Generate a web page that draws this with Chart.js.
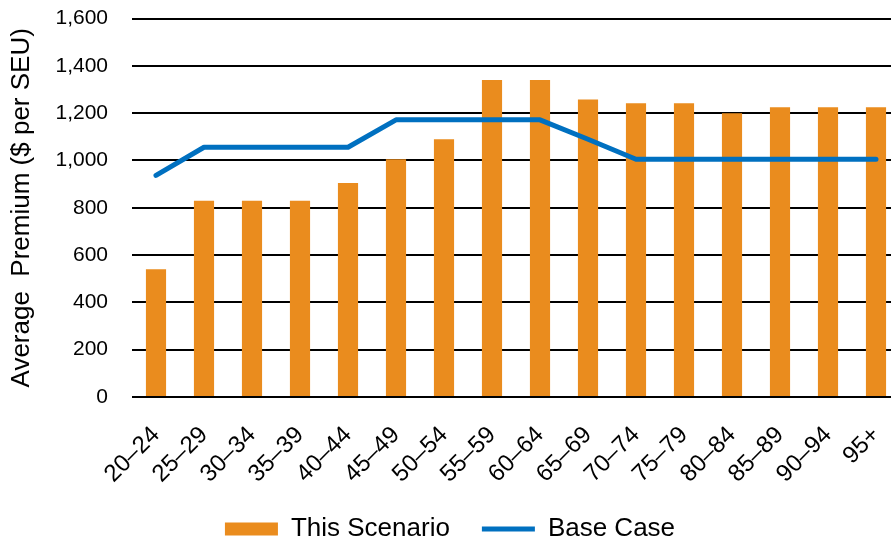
<!DOCTYPE html>
<html>
<head>
<meta charset="utf-8">
<script src="https://cdn.jsdelivr.net/npm/chart.js@4.4.0/dist/chart.umd.min.js"></script>
<style>
  html, body { margin: 0; padding: 0; background: #fff; overflow: hidden; }
  #wrap { width: 900px; height: 570px; position: absolute; left: 0; top: -18px; }
</style>
</head>
<body>
<div id="wrap"><canvas id="chart"></canvas></div>
<script>
const ageGroups = ['20–24', '25–29', '30–34', '35–39', '40–44', '45–49', '50–54', '55–59',
  '60–64', '65–69', '70–74', '75–79', '80–84', '85–89', '90–94', '95+'];
const thisScenario = [540, 830, 830, 830, 905, 1005, 1090, 1340, 1340, 1258, 1242, 1242, 1200, 1225, 1225, 1225];
const baseCase = [937, 1056, 1056, 1056, 1056, 1172, 1172, 1172, 1172, 1090, 1005, 1005, 1005, 1005, 1005, 1005];
const yTicks = [0, 200, 400, 600, 800, 1000, 1200, 1400, 1600];

const family = "'Liberation Sans', Arial, sans-serif";
const tickFont = { family: family, size: 21 };
const xFont = { family: family, size: 24 };
const bigFont = { family: family, size: 26 };

new Chart(document.getElementById('chart'), {
  type: 'bar',
  data: {
    labels: ageGroups,
    datasets: [
      {
        label: 'This Scenario',
        data: thisScenario,
        backgroundColor: '#EA8C1E',
        borderWidth: 0,
        categoryPercentage: 1,
        barPercentage: 0.42,
        pointStyle: 'rect',
        order: 2
      },
      {
        type: 'line',
        label: 'Base Case',
        data: baseCase,
        borderColor: '#0070C0',
        backgroundColor: '#0070C0',
        borderWidth: 5,
        borderCapStyle: 'round',
        borderJoinStyle: 'round',
        tension: 0,
        pointRadius: 0,
        pointStyle: 'line',
        order: 1
      }
    ]
  },
  options: {
    responsive: true,
    maintainAspectRatio: false,
    animation: false,
    layout: { padding: { left: 0, right: 0, top: 0, bottom: 0 } },
    plugins: {
      tooltip: { enabled: false },
      legend: {
        position: 'bottom',
        labels: {
          usePointStyle: true,
          pointStyleWidth: 53,
          boxHeight: 13,
          padding: 32,
          color: '#000',
          font: bigFont,
          sort: (a, b) => a.datasetIndex - b.datasetIndex
        }
      }
    },
    scales: {
      x: {
        grid: { display: false },
        border: { display: false },
        afterFit: axis => {
          // fixed axis box so the legend sits close; let labels spill past it
          axis.height = 87;
          axis.paddingRight = 0;
          axis._computeLabelArea = () => undefined;
        },
        ticks: {
          color: '#000',
          font: xFont,
          maxRotation: 45,
          minRotation: 45,
          padding: 16,
          autoSkip: false
        }
      },
      y: {
        min: 0,
        max: 1600,
        afterBuildTicks: axis => { axis.ticks = yTicks.map(v => ({ value: v })); },
        afterFit: axis => { axis.width = 132; },
        grid: { color: '#000', lineWidth: 2, drawTicks: false },
        border: { display: false },
        ticks: {
          color: '#000',
          font: tickFont,
          padding: 24,
          callback: v => v.toLocaleString('en-US')
        },
        title: {
          display: true,
          text: 'Average  Premium ($ per SEU)',
          color: '#000',
          font: bigFont,
          padding: { top: 6, bottom: 0 }
        }
      }
    }
  }
});
</script>
</body>
</html>
